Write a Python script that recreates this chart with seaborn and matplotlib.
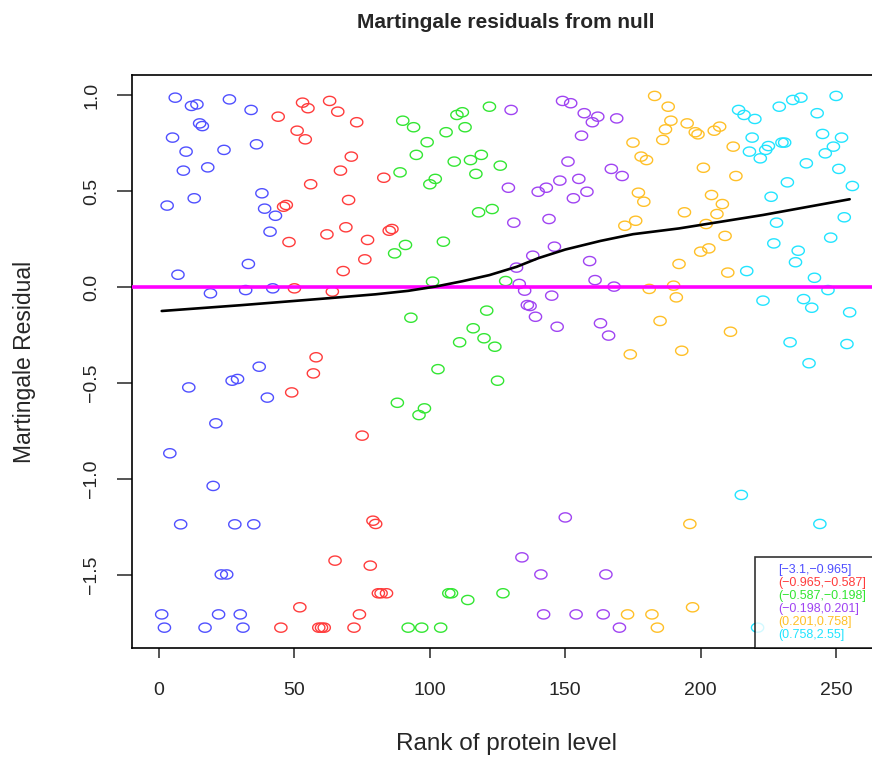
import numpy as np
import pandas as pd
import matplotlib
matplotlib.use("Agg")
import matplotlib.pyplot as plt
from matplotlib.path import Path
from matplotlib.lines import Line2D
import seaborn as sns

# group labels (protein level quantile bins) and their colours
groups = ["[\u22123.1,\u22120.965]", "(\u22120.965,\u22120.587]", "(\u22120.587,\u22120.198]",
          "(\u22120.198,0.201]", "(0.201,0.758]", "(0.758,2.55]"]
colors = ["#5050ff", "#ff3c3c", "#33e633", "#a044f2", "#ffc028", "#22e4ff"]

# martingale residuals, in rank order, one list per group
res_g1 = [-1.705, -1.774, 0.424, -0.866, 0.778, 0.986, 0.064, -1.236, 0.606, 0.705,
          -0.523, 0.943, 0.462, 0.951, 0.852, 0.838, -1.774, 0.623, -0.033, -1.036,
          -0.710, -1.705, -1.497, 0.714, -1.497, 0.977, -0.488, -1.236, -0.479, -1.705,
          -1.774, -0.016, 0.120, 0.922, -1.236, 0.743, -0.415, 0.488, 0.408, -0.576,
          0.288, -0.007, 0.371]
res_g2 = [0.887, -1.774, 0.418, 0.427, 0.234, -0.549, -0.007, 0.814, -1.668, 0.960,
          0.769, 0.931, 0.535, -0.450, -0.366, -1.774, -1.774, -1.774, 0.274, 0.969,
          -0.024, -1.425, 0.913, 0.606, 0.083, 0.311, 0.453, 0.679, -1.774, 0.858,
          -1.705, -0.774, 0.144, 0.245, -1.451, -1.217, -1.234, -1.595, -1.595, 0.569,
          -1.595, 0.293, 0.302]
res_g3 = [0.175, -0.603, 0.597, 0.866, 0.219, -1.774, -0.160, 0.832, 0.688, -0.667,
          -1.774, -0.632, 0.754, 0.535, 0.028, 0.563, -0.428, -1.774, 0.236, 0.806,
          -1.595, -1.595, 0.653, 0.896, -0.288, 0.910, 0.832, -1.630, 0.661, -0.215,
          0.589, 0.389, 0.688, -0.267, -0.123, 0.939, 0.406, -0.311, -0.488, 0.632,
          -1.595, 0.031]
res_g4 = [0.517, 0.922, 0.335, 0.101, 0.016, -1.408, -0.019, -0.094, -0.099, 0.163,
          -0.155, 0.496, -1.497, -1.705, 0.517, 0.354, -0.045, 0.210, -0.207, 0.554,
          0.969, -1.200, 0.653, 0.957, 0.462, -1.705, 0.563, 0.788, 0.905, 0.496,
          0.135, 0.858, 0.036, 0.887, -0.189, -1.705, -1.497, -0.253, 0.615, 0.002,
          0.878, -1.774, 0.578]
res_g5 = [0.319, -1.705, -0.351, 0.752, 0.345, 0.491, 0.679, 0.444, 0.661, -0.010,
          -1.705, 0.995, -1.774, -0.177, 0.766, 0.821, 0.939, 0.866, 0.007, -0.054,
          0.120, -0.332, 0.389, 0.852, -1.234, -1.668, 0.806, 0.795, 0.184, 0.621,
          0.328, 0.201, 0.479, 0.814, 0.380, 0.835, 0.432, 0.266, 0.075, -0.233,
          0.731, 0.578]
res_g6 = [0.922, -1.083, 0.896, 0.083, 0.705, 0.778, 0.875, -1.774, 0.670, -0.071,
          0.714, 0.734, 0.470, 0.227, 0.335, 0.939, 0.752, 0.752, 0.545, -0.288,
          0.974, 0.129, 0.189, 0.986, -0.063, 0.644, -0.397, -0.108, 0.048, 0.905,
          -1.234, 0.797, 0.696, -0.016, 0.257, 0.731, 0.995, 0.615, 0.778, 0.363,
          -0.297, -0.132, 0.526]

# smoothed trend
smooth_x = [1, 30, 63, 80, 92, 102, 112, 122, 132, 140, 150, 163, 175, 192, 223, 255]
smooth_y = [-0.125, -0.095, -0.058, -0.038, -0.020, 0.002, 0.030, 0.062, 0.105,
            0.150, 0.195, 0.240, 0.275, 0.305, 0.375, 0.457]

all_res = [res_g1, res_g2, res_g3, res_g4, res_g5, res_g6]
df = pd.DataFrame({
    "residual": np.concatenate(all_res),
    "group": np.repeat(groups, [len(r) for r in all_res]),
})
df["rank"] = np.arange(1, len(df) + 1)

sns.set_style("white")
plt.rcParams["font.family"] = ["Liberation Sans", "DejaVu Sans"]

fig = plt.figure(figsize=(8.72, 7.59), dpi=100)
ax = fig.add_axes([132 / 872, 1 - 648 / 759, 748 / 872, 573 / 759])

# slightly flattened open circle
t = np.linspace(0, 2 * np.pi, 60)
ellipse = Path(np.column_stack([np.cos(t), 0.75 * np.sin(t)]))

sns.scatterplot(data=df, x="rank", y="residual", hue="group", hue_order=groups,
                palette=dict(zip(groups, colors)), marker=ellipse, s=78,
                linewidth=1.0, legend=False, ax=ax)
pts = ax.collections[0]
pts.set_edgecolors(pts.get_facecolors())
pts.set_facecolors("none")

ax.axhline(0, color="#ff00ff", lw=2.6, zorder=3)
ax.plot(smooth_x, smooth_y, color="black", lw=1.9, zorder=4)

ax.set_xlim(-9.97, 266.2)
ax.set_ylim(-1.880, 1.104)
ax.set_xticks([0, 50, 100, 150, 200, 250])
ax.set_yticks([-1.5, -1.0, -0.5, 0.0, 0.5, 1.0])
ax.set_yticklabels(["\u22121.5", "\u22121.0", "\u22120.5", "0.0", "0.5", "1.0"],
                   rotation=90, va="center")
ax.tick_params(axis="x", length=7.5, width=1.1, pad=17, labelsize=14, direction="out",
               bottom=True)
ax.tick_params(axis="y", length=11, width=1.1, pad=12, labelsize=14, direction="out",
               left=True)
for sp in ax.spines.values():
    sp.set_color("black")
    sp.set_linewidth(1.2)

ax.set_xlabel("Rank of protein level", fontsize=17.5)
ax.set_ylabel("Martingale Residual", fontsize=16.5)
ax.xaxis.set_label_coords(0.5, -0.148)
ax.yaxis.set_label_coords(-0.128, 0.5)
ax.set_title("Martingale residuals from null", fontsize=15, fontweight="bold", pad=34)

handles = [Line2D([], [], color="none") for _ in groups]
leg = ax.legend(handles, groups, loc="lower left", bbox_to_anchor=(0.833, 0.0),
                labelcolor=colors, fontsize=9, handlelength=0, handletextpad=1.3,
                frameon=True, fancybox=False, borderpad=0.55, labelspacing=0.08,
                borderaxespad=0)
leg.get_frame().set_edgecolor("black")
leg.get_frame().set_linewidth(1.2)

fig.savefig("out.png", dpi=100)
